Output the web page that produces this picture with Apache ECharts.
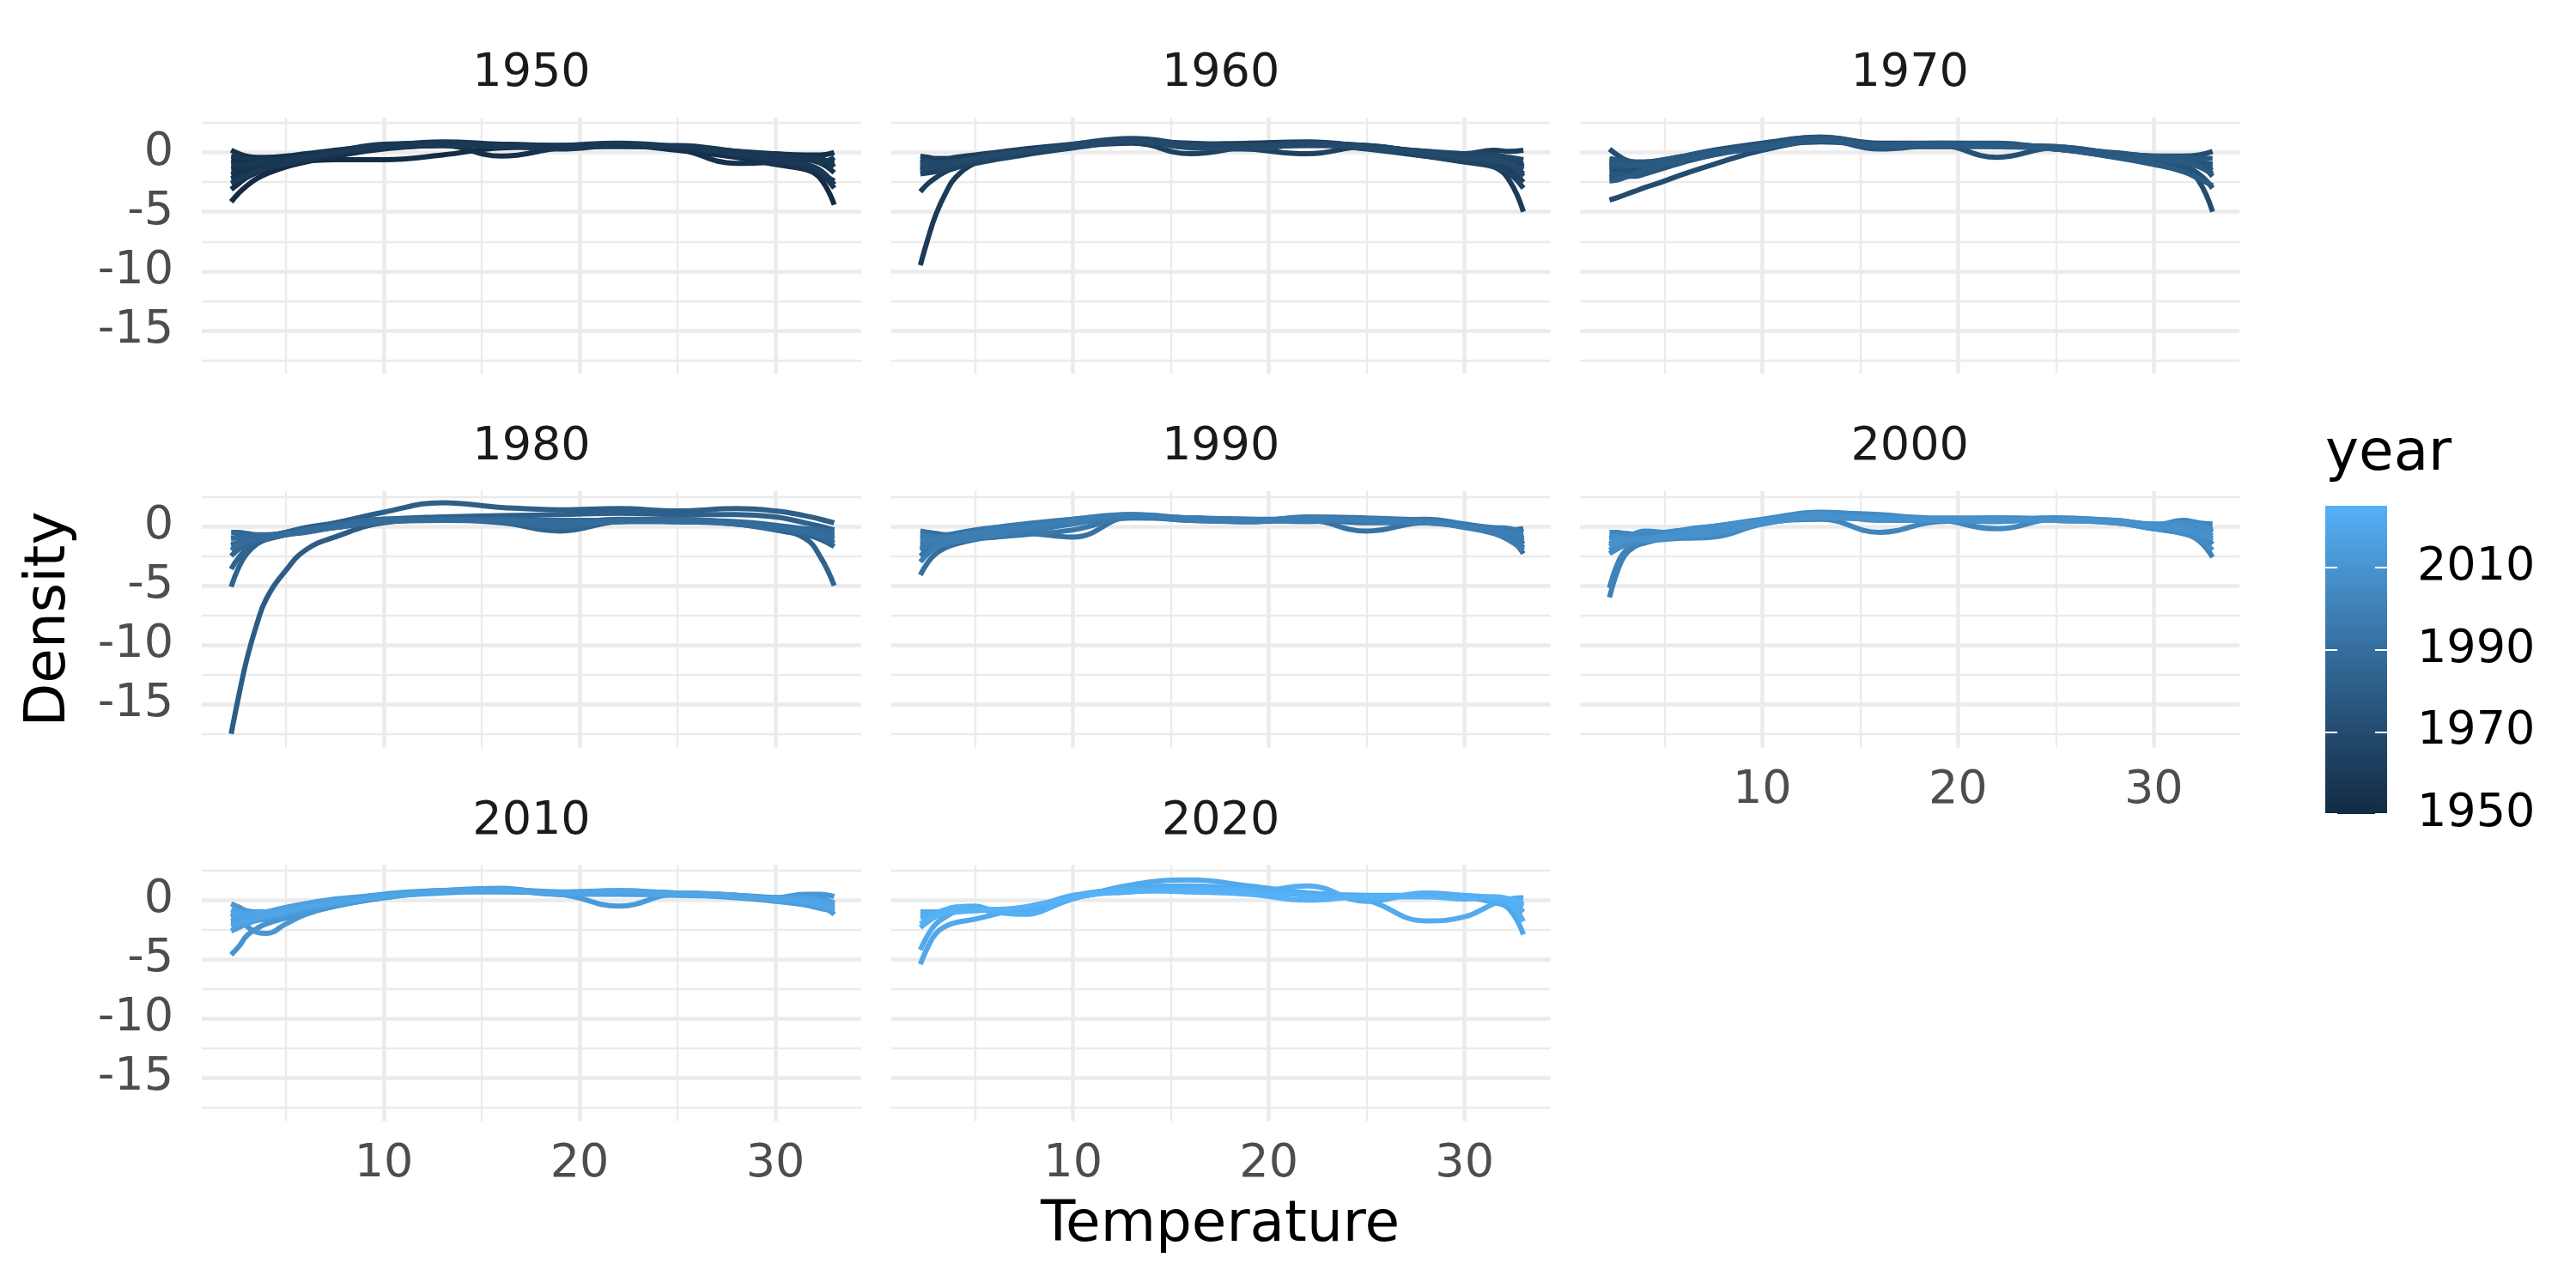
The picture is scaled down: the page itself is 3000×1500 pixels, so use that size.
<!DOCTYPE html>
<html>
<head>
<meta charset="utf-8">
<title>Density by temperature, one panel per decade</title>
<script src="https://cdn.jsdelivr.net/npm/echarts@6/dist/echarts.min.js"></script>
<style>
  html, body { margin: 0; padding: 0; background: #fff; }
  #chart { width: 3000px; height: 1500px; }
</style>
</head>
<body>
<div id="chart"></div>
<script>
const temps = [2.2, 2.6, 3.0, 3.5, 4.0, 5.0, 6.0, 7.5, 10, 13, 16, 19, 22, 25, 28, 30, 31.5, 32.3, 33];

// one panel per decade, one curve per year (first curve = first year of the decade)
const decades = [1950, 1960, 1970, 1980, 1990, 2000, 2010, 2020];

const d1950 = [
  [-4.15, -3.4, -2.8, -2.2, -1.8, -1.2, -0.8, -0.3, 0.4, 0.7, 0.6, 0.5, 0.7, 0.4, -0.3, -0.8, -1.4, -2.2, -4.4],
  [-0.65, -0.75, -0.85, -0.9, -0.9, -0.8, -0.7, -0.6, -0.6, -0.2, 0.4, 0.5, 0.6, 0.5, 0.0, -0.3, -0.5, -0.7, -0.9],
  [-3.1, -2.6, -2.1, -1.7, -1.4, -1.0, -0.7, -0.2, 0.5, 0.8, 0.5, 0.4, 0.6, 0.2, -0.4, -1.0, -1.4, -1.8, -2.4],
  [0.2, -0.1, -0.3, -0.4, -0.4, -0.3, -0.1, 0.2, 0.6, 0.7, 0.7, 0.6, 0.7, 0.5, 0.1, -0.1, -0.2, -0.2, 0.0],
  [-1.85, -1.7, -1.6, -1.4, -1.3, -1.0, -0.7, -0.3, 0.3, 0.6, -0.3, 0.4, 0.7, 0.3, -0.9, -0.8, -0.6, -0.9, -1.7],
  [-1.4, -1.35, -1.3, -1.2, -1.1, -0.8, -0.5, -0.1, 0.6, 0.8, 0.6, 0.5, 0.6, 0.5, -0.1, -0.4, -0.6, -0.7, -0.8],
  [-2.2, -2.0, -1.8, -1.5, -1.3, -0.9, -0.6, -0.1, 0.5, 0.9, 0.7, 0.6, 0.6, 0.4, -0.2, -0.9, -1.3, -1.8, -3.0],
  [-0.3, -0.4, -0.5, -0.6, -0.6, -0.5, -0.3, 0.0, 0.4, 0.6, 0.6, 0.5, 0.5, 0.4, 0.0, -0.3, -0.4, -0.5, -1.2],
  [-1.0, -1.0, -1.0, -0.9, -0.8, -0.6, -0.3, 0.1, 0.7, 0.8, 0.6, 0.3, 0.6, 0.6, 0.1, -0.2, -0.5, -0.8, -0.4],
  [-2.6, -2.3, -2.0, -1.6, -1.3, -0.9, -0.5, 0.0, 0.5, 0.7, 0.5, 0.6, 0.8, 0.5, -0.1, -0.6, -1.0, -1.5, -2.7]
];

const d1960 = [
  [-9.5, -7.2, -5.2, -3.4, -2.1, -0.9, -0.5, -0.1, 0.5, 0.9, 0.6, 0.6, 0.7, 0.5, -0.2, -0.6, -1.2, -2.4, -5.0],
  [-3.3, -2.6, -2.1, -1.6, -1.3, -0.8, -0.4, 0.0, 0.6, 0.9, 0.6, 0.7, 0.8, 0.6, 0.0, -0.3, -0.5, -0.7, -1.0],
  [-0.3, -0.4, -0.5, -0.5, -0.4, -0.2, 0.0, 0.3, 0.7, 1.1, 0.7, 0.8, 0.9, 0.5, 0.1, -0.1, 0.2, 0.1, 0.2],
  [-1.5, -1.4, -1.3, -1.1, -1.0, -0.7, -0.4, 0.0, 0.5, 0.8, -0.1, 0.5, 0.7, 0.6, -0.1, -0.7, -1.0, -1.5, -2.5],
  [-0.9, -0.9, -0.9, -0.8, -0.7, -0.5, -0.3, 0.1, 0.6, 0.9, 0.6, 0.3, -0.1, 0.5, 0.0, -0.3, -0.3, -0.6, -1.2],
  [-1.8, -1.7, -1.6, -1.4, -1.2, -0.9, -0.6, -0.2, 0.4, 0.9, 0.8, 0.6, 0.8, 0.5, -0.3, -0.8, -1.2, -1.8, -3.0],
  [-1.2, -1.2, -1.2, -1.1, -1.0, -0.7, -0.4, 0.0, 0.6, 1.0, 0.5, 0.6, 0.7, 0.3, -0.3, -0.6, -0.6, -1.0, -1.8],
  [-0.6, -0.7, -0.8, -0.8, -0.8, -0.6, -0.3, 0.1, 0.7, 1.2, 0.7, 0.5, 0.6, 0.5, 0.1, -0.1, -0.2, -0.4, -0.6],
  [-1.4, -1.3, -1.2, -1.1, -0.9, -0.6, -0.3, 0.1, 0.5, 0.9, 0.6, 0.6, 0.8, 0.5, -0.1, -0.5, -0.7, -1.1, -2.0],
  [-1.0, -1.0, -1.0, -0.9, -0.8, -0.5, -0.2, 0.1, 0.6, 1.0, 0.4, 0.3, 0.7, 0.4, 0.0, -0.4, -0.6, -0.9, -1.4]
];

const d1970 = [
  [-4.0, -3.8, -3.55, -3.25, -2.95, -2.4, -1.8, -1.0, 0.2, 0.9, 0.6, 0.5, 0.6, 0.3, -0.2, -0.6, -1.2, -2.4, -5.0],
  [0.3, -0.2, -0.6, -0.8, -0.8, -0.6, -0.3, 0.2, 0.8, 1.3, 0.8, 0.8, 0.7, 0.4, 0.0, -0.3, -0.3, -0.2, 0.1],
  [-1.5, -1.5, -1.4, -1.3, -1.2, -0.9, -0.5, 0.0, 0.6, 1.1, 0.4, 0.7, 0.6, 0.5, -0.1, -0.6, -0.9, -1.1, -1.5],
  [-2.1, -2.0, -1.8, -1.6, -1.4, -1.0, -0.6, -0.1, 0.4, 1.0, 0.5, 0.6, -0.4, 0.4, -0.2, -0.8, -1.2, -1.8, -3.0],
  [-0.8, -0.9, -1.0, -1.0, -1.0, -0.8, -0.5, 0.0, 0.7, 1.3, 0.7, 0.7, 0.7, 0.3, -0.3, -0.5, -0.6, -0.8, -1.0],
  [-1.2, -1.2, -1.2, -1.1, -1.0, -0.8, -0.5, -0.1, 0.5, 1.0, 0.7, 0.5, 0.5, 0.4, -0.1, -0.4, -0.6, -1.0, -2.0],
  [-1.8, -1.9, -2.0, -2.0, -1.8, -1.3, -0.8, -0.2, 0.5, 1.1, 0.3, 0.6, 0.6, 0.5, -0.2, -0.7, -0.9, -1.1, -1.2],
  [-0.5, -0.6, -0.7, -0.8, -0.8, -0.6, -0.3, 0.1, 0.6, 1.2, 0.7, 0.8, 0.8, 0.3, -0.1, -0.3, -0.4, -0.5, -0.5],
  [-1.0, -1.0, -1.1, -1.1, -1.0, -0.7, -0.4, 0.0, 0.5, 1.1, 0.5, 0.7, 0.6, 0.4, -0.2, -0.5, -0.8, -1.2, -1.8],
  [-2.4, -2.3, -2.1, -1.8, -1.5, -1.0, -0.6, -0.1, 0.4, 1.0, 0.6, 0.6, 0.5, 0.3, -0.4, -1.0, -1.6, -2.2, -2.8]
];

const d1980 = [
  [-17.5, -14.2, -11.2, -8.3, -6.1, -3.7, -2.0, -0.9, 0.3, 0.6, 0.5, 0.3, 0.5, 0.4, 0.3, -0.1, -0.5, -0.8, -1.1],
  [-1.5, -1.4, -1.3, -1.1, -0.9, -0.5, -0.1, 0.3, 1.2, 2.0, 1.6, 1.4, 1.5, 1.3, 1.5, 1.3, 0.9, 0.6, 0.3],
  [-1.0, -1.0, -1.0, -0.9, -0.8, -0.5, -0.2, 0.2, 0.6, 0.8, 0.9, 1.0, 1.1, 1.0, 1.0, 0.8, 0.3, 0.0, -0.3],
  [-5.1, -3.4, -2.3, -1.5, -1.1, -0.7, -0.4, 0.0, 0.5, 0.6, 0.5, 0.4, 0.5, 0.5, 0.3, -0.3, -1.0, -2.6, -5.0],
  [-3.6, -2.6, -1.9, -1.4, -1.1, -0.7, -0.4, -0.1, 0.4, 0.5, 0.3, -0.4, 0.4, 0.5, 0.2, -0.3, -0.7, -1.1, -1.7],
  [-2.5, -1.9, -1.5, -1.2, -1.0, -0.7, -0.4, -0.1, 0.4, 0.6, 0.6, 0.5, 0.5, 0.4, 0.3, -0.1, -0.4, -0.6, -0.8],
  [-0.5, -0.5, -0.6, -0.7, -0.7, -0.6, -0.3, 0.1, 0.6, 0.6, 0.5, 0.2, 0.4, 0.5, 0.4, 0.1, -0.2, -0.3, -0.4],
  [-1.6, -1.4, -1.2, -1.0, -0.9, -0.6, -0.3, 0.0, 0.5, 0.5, 0.6, 0.3, 0.6, 0.5, 0.2, -0.2, -0.5, -0.9, -1.4],
  [-1.0, -0.9, -0.8, -0.8, -0.8, -0.6, -0.3, 0.1, 0.6, 0.6, 0.4, 0.0, 0.5, 0.6, 0.3, 0.0, -0.3, -0.5, -0.6],
  [-2.0, -1.6, -1.3, -1.1, -1.0, -0.7, -0.5, -0.1, 0.4, 0.5, 0.5, 0.4, 0.4, 0.4, 0.2, -0.2, -0.5, -0.8, -1.0]
];

const d1990 = [
  [-4.1, -3.0, -2.3, -1.8, -1.5, -1.1, -0.9, -0.6, 0.4, 0.9, 0.7, 0.5, 0.6, 0.3, 0.3, 0.0, -0.5, -1.0, -2.3],
  [-0.4, -0.5, -0.6, -0.7, -0.6, -0.3, -0.1, 0.1, 0.5, 0.9, 0.6, 0.5, 0.7, 0.6, 0.4, 0.1, -0.2, -0.3, -0.2],
  [-1.5, -1.4, -1.3, -1.2, -1.1, -0.9, -0.8, -0.6, -0.9, 0.8, 0.7, 0.5, 0.5, -0.4, 0.3, 0.0, -0.4, -0.7, -1.2],
  [-2.5, -2.0, -1.7, -1.4, -1.2, -0.8, -0.5, -0.1, 0.5, 0.8, 0.5, 0.4, 0.8, 0.7, 0.5, 0.1, -0.3, -0.6, -1.5],
  [-1.0, -1.0, -1.0, -0.9, -0.8, -0.5, -0.2, 0.0, 0.6, 1.0, 0.7, 0.6, 0.6, 0.5, 0.6, 0.2, -0.2, -0.5, -1.0],
  [-2.0, -1.7, -1.5, -1.3, -1.2, -1.0, -0.9, -0.7, -0.3, 0.7, 0.6, 0.4, 0.5, 0.5, 0.4, 0.0, -0.5, -0.9, -1.8],
  [-0.7, -0.8, -0.9, -0.9, -0.8, -0.4, -0.1, 0.2, 0.6, 0.9, 0.5, 0.4, 0.7, 0.4, 0.3, 0.1, -0.1, -0.2, -0.5],
  [-1.8, -1.6, -1.4, -1.2, -1.1, -0.8, -0.6, -0.4, 0.2, 0.9, 0.6, 0.5, 0.6, 0.6, 0.5, 0.1, -0.3, -0.8, -1.4],
  [-3.0, -2.3, -1.8, -1.5, -1.3, -1.0, -0.7, -0.3, 0.4, 0.8, 0.7, 0.6, 0.4, 0.6, 0.4, -0.1, -0.6, -1.2, -2.0],
  [-1.2, -1.2, -1.1, -1.0, -0.9, -0.6, -0.3, -0.1, 0.5, 1.0, 0.6, 0.5, 0.7, 0.5, 0.3, 0.0, -0.3, -0.6, -0.8]
];

const d2000 = [
  [-6.0, -3.8, -2.4, -1.7, -1.4, -1.0, -0.7, -0.3, 0.3, 0.9, 0.6, 0.6, 0.6, 0.5, 0.3, -0.2, -0.6, -1.2, -2.6],
  [-5.2, -3.2, -2.1, -1.5, -1.2, -0.9, -0.6, -0.1, 0.4, 1.0, 0.8, 0.5, 0.7, 0.6, 0.4, 0.0, -0.3, -0.6, -1.5],
  [-1.0, -0.8, -0.6, -0.7, -0.9, -1.0, -0.8, -0.4, 0.3, 0.6, -0.5, 0.4, 0.5, 0.7, 0.4, 0.1, 0.5, 0.3, 0.2],
  [-0.5, -0.5, -0.6, -0.7, -0.7, -0.5, -0.3, 0.0, 0.6, 1.2, 0.9, 0.6, -0.2, 0.6, 0.5, 0.0, -0.2, -0.3, -0.1],
  [-2.0, -1.7, -1.5, -1.3, -1.2, -1.1, -1.0, -0.9, 0.2, 0.8, 0.7, 0.6, 0.6, 0.7, 0.5, 0.2, 0.2, 0.0, -0.5],
  [-1.5, -1.2, -1.0, -0.6, -0.4, -0.5, -0.6, -0.5, 0.4, 0.9, 0.8, 0.7, 0.7, 0.6, 0.4, 0.0, -0.4, -0.8, -1.2],
  [-2.3, -1.9, -1.6, -1.4, -1.2, -0.9, -0.6, -0.2, 0.5, 1.1, 1.0, 0.6, 0.6, 0.5, 0.3, -0.2, -0.6, -1.1, -2.0],
  [-0.8, -0.9, -1.1, -1.2, -1.2, -0.8, -0.3, 0.0, 0.4, 0.7, 0.6, 0.5, 0.6, 0.6, 0.4, 0.1, 0.3, 0.1, -0.3],
  [-1.2, -1.1, -1.0, -1.0, -1.0, -0.8, -0.5, -0.1, 0.5, 1.0, 0.5, 0.5, 0.4, 0.6, 0.5, 0.1, -0.1, -0.4, -0.8],
  [-1.7, -1.4, -1.2, -1.1, -1.1, -1.0, -0.8, -0.6, 0.2, 0.8, 0.7, 0.6, 0.6, 0.5, 0.4, 0.0, -0.3, -0.6, -1.0]
];

const d2010 = [
  [-4.6, -3.9, -3.0, -2.4, -2.0, -1.5, -1.1, -0.5, 0.3, 0.8, 0.9, 0.6, 0.7, 0.6, 0.4, 0.2, 0.0, -0.4, -1.2],
  [-1.1, -1.6, -2.2, -2.7, -2.8, -2.0, -1.2, -0.5, 0.2, 0.7, 0.8, 0.5, 0.6, 0.6, 0.4, 0.1, 0.4, 0.2, -0.3],
  [-0.3, -0.6, -0.9, -1.0, -1.0, -0.7, -0.3, 0.0, 0.5, 0.8, 0.8, 0.6, 0.7, 0.5, 0.3, 0.2, 0.5, 0.5, 0.3],
  [-2.0, -1.9, -1.8, -1.7, -1.6, -1.3, -1.0, -0.5, 0.2, 0.7, 0.7, 0.5, -0.5, 0.5, 0.3, 0.0, -0.3, -0.6, -1.0],
  [-1.5, -1.4, -1.3, -1.1, -1.0, -0.7, -0.4, 0.0, 0.4, 0.8, 1.0, 0.5, 0.6, 0.5, 0.2, -0.1, -0.4, -0.7, -0.9],
  [-2.6, -2.3, -2.0, -1.7, -1.5, -1.1, -0.8, -0.3, 0.4, 0.8, 0.9, 0.7, 0.8, 0.6, 0.4, 0.1, -0.1, -0.4, -0.6],
  [-0.8, -1.0, -1.1, -1.1, -1.0, -0.8, -0.5, -0.1, 0.3, 0.6, 0.8, 0.6, 0.7, 0.6, 0.3, 0.2, 0.2, 0.0, -0.2],
  [-1.8, -1.6, -1.4, -1.2, -1.0, -0.6, -0.3, 0.1, 0.4, 0.7, 0.9, 0.5, 0.5, 0.4, 0.3, 0.0, -0.2, -0.5, -0.8],
  [-1.2, -1.2, -1.2, -1.1, -1.0, -0.9, -0.6, -0.2, 0.3, 0.8, 0.8, 0.6, 0.6, 0.6, 0.4, 0.1, 0.1, -0.1, -0.5],
  [-2.2, -2.0, -1.8, -1.5, -1.3, -1.0, -0.6, -0.2, 0.3, 0.7, 0.9, 0.6, 0.8, 0.5, 0.3, 0.1, -0.1, -0.3, -0.7]
];

const d2020 = [
  [-5.4, -3.9, -2.8, -2.2, -1.9, -1.6, -1.2, -0.6, 0.2, 0.8, 0.8, 0.6, 0.5, 0.3, 0.3, 0.2, -0.2, -0.8, -2.9],
  [-4.2, -2.9, -2.0, -1.4, -1.0, -0.8, -0.9, -1.1, 0.1, 1.3, 1.7, 1.2, 0.6, 0.4, 0.4, 0.3, 0.1, -0.1, -0.5],
  [-1.0, -1.0, -1.0, -0.8, -0.6, -0.5, -0.9, -1.0, 0.3, 1.0, 1.2, 0.9, 0.6, 0.0, -1.75, -1.4, -0.3, 0.1, 0.2],
  [-2.3, -1.8, -1.4, -1.1, -0.9, -0.7, -0.8, -0.7, 0.4, 0.9, 1.0, 0.7, 1.2, -0.1, 0.6, 0.4, 0.2, -0.1, -1.0],
  [-1.45, -1.3, -1.1, -0.8, -0.6, -0.7, -1.0, -1.2, 0.2, 0.7, 0.9, 0.8, 0.4, 0.2, 0.5, 0.3, 0.1, -0.3, -1.8],
  [-2.0, -1.6, -1.3, -1.1, -1.0, -0.9, -0.8, -0.6, 0.2, 0.8, 0.7, 0.5, 0.0, 0.3, 0.3, 0.1, 0.3, 0.1, -0.3]
];

const curvesByDecade = [d1950, d1960, d1970, d1980, d1990, d2000, d2010, d2020];

// axis breaks and ranges
const xTicks = [10, 20, 30];
const xMinorTicks = [5, 15, 25];
const yTicks = [0, -5, -10, -15];
const yMinorTicks = [2.5, -2.5, -7.5, -12.5, -17.5];
const yearTicks = [1950, 1970, 1990, 2010];
const xRange = [0.7, 34.38];
const yRange = [-18.65, 2.97];
const yearRange = [1950, 2025];

const FONT = 'DejaVu Sans';
const GRID_COLOR = '#EBEBEB';

// ggplot style gradient, low -> high interpolated in Lab space
const lowColor = '#132B43';
const highColor = '#56B1F7';

function hexToLab(hex) {
  const lin = [1, 3, 5].map(i => parseInt(hex.slice(i, i + 2), 16) / 255)
    .map(c => c <= 0.04045 ? c / 12.92 : Math.pow((c + 0.055) / 1.055, 2.4));
  const x = (lin[0] * 0.4124564 + lin[1] * 0.3575761 + lin[2] * 0.1804375) / 0.95047;
  const y = lin[0] * 0.2126729 + lin[1] * 0.7151522 + lin[2] * 0.0721750;
  const z = (lin[0] * 0.0193339 + lin[1] * 0.1191920 + lin[2] * 0.9503041) / 1.08883;
  const f = t => t > 216 / 24389 ? Math.cbrt(t) : (24389 / 27 * t + 16) / 116;
  return [116 * f(y) - 16, 500 * (f(x) - f(y)), 200 * (f(y) - f(z))];
}

function labToHex(lab) {
  const fy = (lab[0] + 16) / 116, fx = fy + lab[1] / 500, fz = fy - lab[2] / 200;
  const inv = t => t * t * t > 216 / 24389 ? t * t * t : (116 * t - 16) / (24389 / 27);
  const x = inv(fx) * 0.95047, y = inv(fy), z = inv(fz) * 1.08883;
  const lin = [
    x * 3.2404542 - y * 1.5371385 - z * 0.4985314,
    -x * 0.9692660 + y * 1.8760108 + z * 0.0415560,
    x * 0.0556434 - y * 0.2040259 + z * 1.0572252
  ];
  return '#' + lin.map(c => {
    c = c <= 0.0031308 ? 12.92 * c : 1.055 * Math.pow(c, 1 / 2.4) - 0.055;
    return Math.round(Math.min(1, Math.max(0, c)) * 255).toString(16).padStart(2, '0');
  }).join('');
}

const lowLab = hexToLab(lowColor);
const highLab = hexToLab(highColor);

const colorAt = (t) => labToHex(lowLab.map((v, i) => v + (highLab[i] - v) * t));
const yearColor = (year) => colorAt((year - yearRange[0]) / (yearRange[1] - yearRange[0]));

// panel layout (pixels)
const panelLeft = 235, panelTop = 136.7;
const panelW = 768, panelH = 298.5;
const colStep = 802.6, rowStep = 435.3;

const chart = echarts.init(document.getElementById('chart'));

const grids = [];
const xAxes = [];
const yAxes = [];
const series = [];
const graphics = [];

decades.forEach((decade, p) => {
  const row = Math.floor(p / 3);
  const col = p % 3;
  const left = panelLeft + col * colStep;
  const top = panelTop + row * rowStep;
  grids.push({ left: left, top: top, width: panelW, height: panelH });

  const showY = col === 0;
  const showX = p >= 5; // bottom of each column

  // major and minor x grid
  [[xTicks, 4.5, showX], [xMinorTicks, 2.3, false]].forEach(([vals, w, lab]) => {
    xAxes.push({
      type: 'value', gridIndex: p, min: xRange[0], max: xRange[1],
      axisLine: { show: false },
      axisTick: { show: false, customValues: vals },
      axisLabel: { show: lab, customValues: vals, color: '#4D4D4D', fontSize: 54, fontFamily: FONT, margin: 23 },
      splitLine: { show: true, lineStyle: { color: GRID_COLOR, width: w } }
    });
  });
  // major and minor y grid
  [[yTicks, 4.5, showY], [yMinorTicks, 2.3, false]].forEach(([vals, w, lab]) => {
    yAxes.push({
      type: 'value', gridIndex: p, min: yRange[0], max: yRange[1],
      axisLine: { show: false },
      axisTick: { show: false, customValues: vals },
      axisLabel: { show: lab, customValues: vals, color: '#4D4D4D', fontSize: 54, fontFamily: FONT, margin: 33 },
      splitLine: { show: true, lineStyle: { color: GRID_COLOR, width: w } }
    });
  });

  curvesByDecade[p].forEach((curve, i) => {
    const year = decade + i;
    series.push({
      name: String(year),
      type: 'line',
      xAxisIndex: 2 * p,
      yAxisIndex: 2 * p,
      data: temps.map((t, k) => [t, curve[k]]),
      smooth: 0.45,
      symbol: 'none',
      silent: true,
      lineStyle: { color: yearColor(year), width: 6 }
    });
  });

  // strip label above the panel
  graphics.push({
    type: 'text', x: left + panelW / 2, y: top - 50.7,
    style: { text: String(decade), fill: '#1A1A1A', fontSize: 54, fontFamily: FONT,
             align: 'center', verticalAlign: 'middle' }
  });
});

// colour bar legend, drawn as a small grid with a stacked bar
const cbIndex = grids.length;
grids.push({ left: 2708, top: 589, width: 72, height: 359 });
xAxes.push({ type: 'category', gridIndex: cbIndex, data: ['year'], show: false });
['right', 'left'].forEach((pos) => {
  yAxes.push({
    type: 'value', gridIndex: cbIndex, position: pos, z: 10,
    min: yearRange[0], max: yearRange[1],
    axisLine: { show: false },
    axisTick: { show: true, inside: true, length: 14, customValues: yearTicks,
                lineStyle: { color: '#ffffff', width: 2 } },
    axisLabel: { show: pos === 'right', customValues: yearTicks, color: '#000', fontSize: 54, fontFamily: FONT, margin: 35,
                 formatter: (v) => String(v) },
    splitLine: { show: false }
  });
});

const stops = [];
for (let k = 0; k <= 10; k++) stops.push({ offset: k / 10, color: colorAt(1 - k / 10) });

series.push({
  type: 'bar', stack: 'cb', xAxisIndex: xAxes.length - 1, yAxisIndex: yAxes.length - 2,
  barWidth: '100%', silent: true, data: [yearRange[0]],
  itemStyle: { color: 'rgba(0,0,0,0)' }
});
series.push({
  type: 'bar', stack: 'cb', xAxisIndex: xAxes.length - 1, yAxisIndex: yAxes.length - 2,
  barWidth: '100%', silent: true, data: [yearRange[1] - yearRange[0]],
  itemStyle: { color: new echarts.graphic.LinearGradient(0, 0, 0, 1, stops) }
});

// axis titles and legend title
graphics.push({
  type: 'text', x: 1421, y: 1428,
  style: { text: 'Temperature', fill: '#000', fontSize: 66, fontFamily: FONT, align: 'center', verticalAlign: 'middle' }
});
graphics.push({
  type: 'text', x: 58, y: 721, rotation: Math.PI / 2,
  style: { text: 'Density', fill: '#000', fontSize: 66, fontFamily: FONT, align: 'center', verticalAlign: 'middle' }
});
graphics.push({
  type: 'text', x: 2708, y: 530,
  style: { text: 'year', fill: '#000', fontSize: 66, fontFamily: FONT, align: 'left', verticalAlign: 'middle' }
});

chart.setOption({
  backgroundColor: '#ffffff',
  animation: false,
  grid: grids,
  xAxis: xAxes,
  yAxis: yAxes,
  series: series,
  graphic: graphics
});
</script>
</body>
</html>
